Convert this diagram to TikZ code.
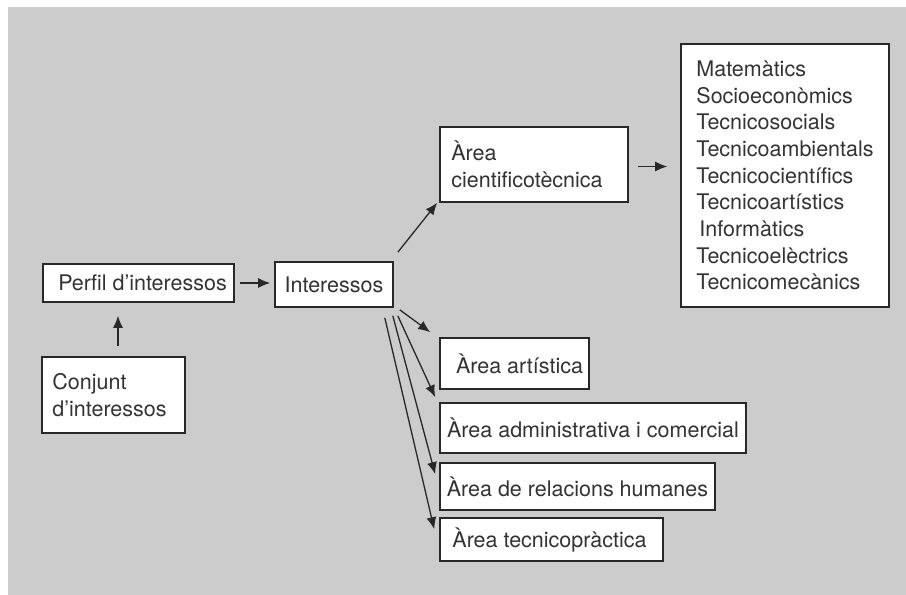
\documentclass[tikz,border=0pt]{standalone}
\usepackage{fontspec}
\setmainfont{TeX Gyre Heros}
\usepackage{tikz}
\definecolor{hintergrund}{RGB}{204,204,204}
\definecolor{strich}{RGB}{40,40,40}
\usetikzlibrary{arrows.meta}

\begin{document}
\begin{tikzpicture}[x=0.5pt, y=-0.5pt,
				>={Latex[length=6pt,width=5pt]},   %Pfeilspitzen
				kasten/.style={draw=strich, line width=0.8pt, fill=white, inner sep=0pt, align=left, text=black!80},
				pfeil/.style={->, line width=0.65pt, draw=strich},
				font=\fontsize{10.75}{13.35}\selectfont]
				%Hintergrund
				\useasboundingbox (0,0) rectangle (906,595);
				\fill[white] (0,0) rectangle (906,595);
				\fill[hintergrund] (8,7) rectangle (906,595);
				% Kaesten links
				\node[kasten, minimum width=95.5pt, minimum height=19pt] (perfil) at (138.5,283) {\hspace*{4pt}Perfil d’interessos};
				\node[kasten, minimum width=59pt, minimum height=22.5pt] (interessos) at (334,284.5) {Interessos};
				\node[kasten, minimum width=71.5pt, minimum height=38pt] (conjunt) at (113.5,395) {Conjunt\\d’interessos\hspace*{4pt}};
				% Kaesten rechts
				\node[kasten, minimum width=94pt, minimum height=37.5pt] (cientific) at (534,164.5) {Àrea\hspace*{60pt}\\cientificotècnica\hspace*{5pt}};
				\node[kasten, minimum width=104pt, minimum height=131.5pt] (llista) at (785,175.5) {Matemàtics\\Socioeconòmics\\Tecnicosocials\\Tecnicoambientals\\Tecnicocientífics\\Tecnicoartístics\\\hspace*{1.5pt}Informàtics\\Tecnicoelèctrics\\Tecnicomecànics};
				\node[kasten, minimum width=74.5pt, minimum height=25.5pt] (artistica) at (514.5,363.5) {\hspace*{5pt}Àrea artística};
				\node[kasten, minimum width=153pt, minimum height=25pt] (admin) at (593,428) {Àrea administrativa i comercial};
				\node[kasten, minimum width=137.5pt, minimum height=23.5pt] (relacions) at (577.5,486.5) {Àrea de relacions humanes};
				\node[kasten, minimum width=111.5pt, minimum height=21.5pt] (tecnica) at (551.5,539.5) {Àrea tecnicopràctica\hspace*{2pt}};
				% Pfeile
				\draw[pfeil] ([xshift=2.25pt,yshift=5pt]conjunt.north) -- ([xshift=2.25pt,yshift=-6.5pt]conjunt.north |- perfil.south);
				\draw[pfeil] ([xshift=2.5pt]perfil.east) -- ([xshift=-2pt]perfil.east -| interessos.west);
				\draw[pfeil] ([shift={(4,-9)}]interessos.north east) -- ([shift={(-2,0)}]cientific.south west);
				\draw[pfeil] ([xshift=4.5pt,yshift=-1pt]cientific.east) -- ([xshift=-6.5pt,yshift=-1pt]cientific.east -| llista.west);
				\draw[pfeil] ([shift={(6,2)}]interessos.south east) -- ([shift={(-9,-5)}]artistica.north west);
				\draw[pfeil] ([shift={(4,8)}]interessos.south east) -- ([shift={(-4,-5)}]admin.north west);
				\draw[pfeil] ([shift={(-1,8)}]interessos.south east) -- ([shift={(-4,12)}]relacions.north west);
				\draw[pfeil] ([shift={(-9,10)}]interessos.south east) -- ([shift={(-5,12)}]tecnica.north west);
			\end{tikzpicture}
\end{document}
